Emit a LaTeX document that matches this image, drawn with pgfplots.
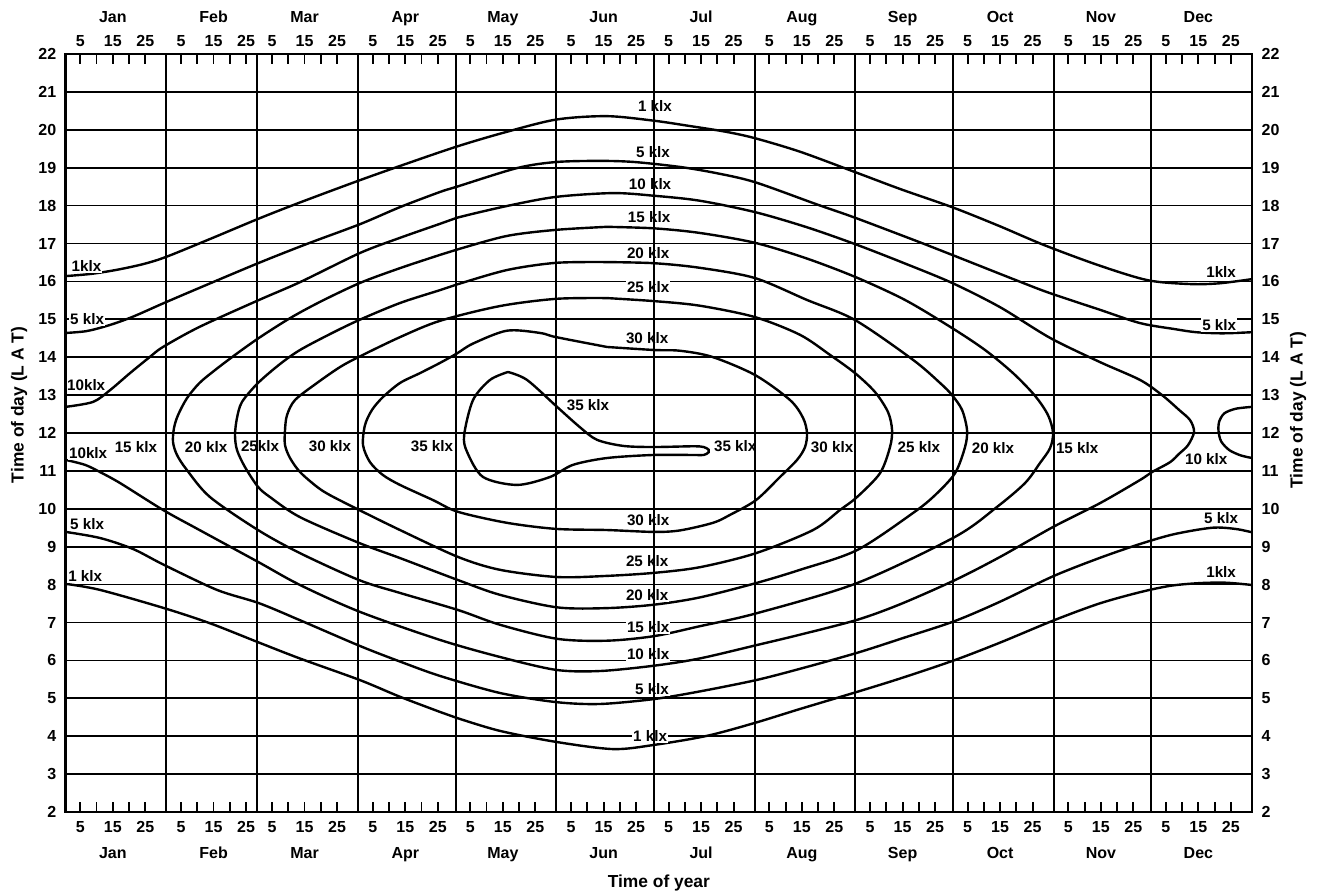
\documentclass[border=0pt]{standalone}
\usepackage{fontspec}
\setmainfont{Liberation Sans}
\usepackage{pgfplots}
\pgfplotsset{compat=1.18}

\newcommand{\tickfont}{\fontsize{8}{9.6}\selectfont\bfseries}
\newcommand{\labfont}{\fontsize{7.6}{9}\selectfont\bfseries}
\newcommand{\titlefont}{\fontsize{8.7}{10.4}\selectfont\bfseries}

\pgfplotsset{
  lux/.style={black, line width=1.2pt, smooth, tension=0.5, mark=none},
  chartframe/.style={
    scale only axis, width=593.15pt, height=379pt,
    xmin=0, xmax=365, ymin=2, ymax=22,
    axis line style={line width=1.4pt, black},
    tick label style={font=\tickfont},
    /pgf/number format/assume math mode=true,
  },
  daylabels/.style={
    xtick={4.5,14.5,24.5,35.5,45.5,55.5,63.5,73.5,83.5,94.5,104.5,114.5,124.5,134.5,144.5,155.5,165.5,175.5,185.5,195.5,205.5,216.5,226.5,236.5,247.5,257.5,267.5,277.5,287.5,297.5,308.5,318.5,328.5,338.5,348.5,358.5},
    xticklabels={5,15,25,5,15,25,5,15,25,5,15,25,5,15,25,5,15,25,5,15,25,5,15,25,5,15,25,5,15,25,5,15,25,5,15,25},
  },
}
\tikzset{
  lbl/.style={fill=white, inner sep=0.6pt, font=\labfont},
  monthtop/.style={anchor=base, yshift=16pt, font=\tickfont},
  monthbot/.style={anchor=base, yshift=-23pt, font=\tickfont},
}

\begin{document}
\begin{tikzpicture}
\path[use as bounding box] (-32.85pt,-39.5pt) rectangle (626.65pt,406pt);

% ---------------- main axis: hour grid, day ticks, illuminance contours
\begin{axis}[chartframe, daylabels,
  minor xtick={9.5,19.5,40.5,50.5,68.5,78.5,99.5,109.5,129.5,139.5,160.5,170.5,190.5,200.5,221.5,231.5,252.5,262.5,282.5,292.5,313.5,323.5,343.5,353.5},
  xtick pos=both, tick align=inside,
  major tick length=5pt, minor tick length=5pt,
  tick style={line width=0.9pt, black},
  xticklabel style={yshift=-1.3pt},
  ytick={2,...,22}, ytick pos=left,
  ytick style={draw=none},
  yticklabel style={xshift=-1.2pt},
  ymajorgrids,
  major grid style={line width=0.85pt, black},
  xlabel={Time of year},
  xlabel style={font=\titlefont, at={(rel axis cs:0.5,0)}, anchor=base, yshift=-37.5pt},
  ylabel={Time of day (L A T)},
  % the label is rotated, so its own y direction points left
  ylabel style={font=\titlefont, at={(rel axis cs:0,0.537)}, anchor=center, yshift=23.3pt},
]

% 1 klx, evening
\addplot[lux] coordinates {(0,16.14) (8,16.20) (16,16.31) (24,16.46) (31,16.65) (45,17.14) (59.5,17.66) (72,18.08) (90.5,18.67) (105,19.11) (120.4,19.56) (135,19.93) (150.9,20.27) (166.5,20.36) (181,20.24) (192,20.10) (203,19.95) (212,19.78) (226,19.42) (243,18.88) (257,18.43) (273,17.95) (287,17.47) (301,16.96) (318,16.42) (333,16.03) (346,15.93) (355,15.95) (365,16.06)};
% 1 klx, morning
\addplot[lux] coordinates {(0,8.02) (10.55,7.86) (30.25,7.38) (44.71,6.97) (59.48,6.47) (72.09,6.05) (90.55,5.48) (102.86,5.04) (115.17,4.64) (120.40,4.48) (133.63,4.14) (150.86,3.85) (168.40,3.66) (181.02,3.77) (197.32,4.01) (212,4.35) (226,4.72) (243.5,5.17) (257,5.53) (273.6,6.01) (287.5,6.47) (303.8,7.05) (318,7.50) (330.55,7.80) (340,7.97) (349.02,8.04) (357,8.05) (365,7.99)};
% 5 klx, evening
\addplot[lux] coordinates {(0,14.64) (6.5,14.69) (13.6,14.85) (20.71,15.07) (30.25,15.43) (41.17,15.83) (59.48,16.49) (74.25,16.99) (90.55,17.51) (102.86,17.96) (115.17,18.36) (120.40,18.50) (138.86,18.99) (150.86,19.15) (164.40,19.18) (175,19.15) (189,19.02) (200,18.86) (212,18.62) (231.17,18.03) (242.86,17.68) (264.09,16.99) (272.71,16.70) (293.94,15.98) (302.86,15.69) (318.25,15.25) (330.55,14.90) (341.32,14.74) (347.78,14.66) (356,14.63) (365,14.66)};
% 5 klx, morning
\addplot[lux] coordinates {(0,9.39) (10.55,9.23) (20.71,8.94) (30.25,8.52) (46.55,7.86) (59.48,7.51) (72.09,7.06) (90.55,6.38) (102.86,5.97) (115.17,5.59) (133.63,5.14) (150.86,4.90) (164.40,4.85) (181,4.98) (195,5.18) (212.4,5.48) (226,5.78) (243.5,6.20) (258,6.60) (273.6,7.04) (287.5,7.55) (303.8,8.22) (318,8.70) (330.5,9.07) (341,9.33) (352.7,9.50) (359.8,9.47) (365,9.38)};
% 10 klx
\addplot[lux] coordinates {(0,12.69) (8.4,12.82) (13.63,13.13) (19.78,13.58) (25.94,14.01) (29.94,14.27) (41.17,14.80) (59.48,15.51) (72.09,15.98) (90.55,16.75) (102.86,17.15) (115.17,17.52) (120.40,17.68) (135.78,17.99) (150.86,18.23) (168.4,18.33) (181,18.26) (195,18.13) (212,17.83) (228,17.43) (243,16.98) (258,16.48) (272.71,15.96) (287.48,15.32) (302.86,14.51) (318.25,13.87) (330.55,13.40) (337.32,13.00) (342.55,12.61) (345.94,12.34) (347.17,12.03) (345.32,11.68) (342.55,11.45) (339.78,11.23) (334.25,10.97) (330.55,10.76) (318.25,10.15) (303.78,9.52) (287.48,8.73) (273.63,8.12) (256.7,7.48) (243.5,7.07) (226,6.68) (212.4,6.40) (195,6.05) (181,5.86) (164.40,5.72) (150.86,5.75) (133.63,6.09) (115.17,6.54) (90.55,7.28) (72.09,7.99) (59.17,8.60) (41.17,9.44) (29.94,9.97) (16.71,10.68) (10.55,10.97) (5.94,11.16) (0,11.29)};
\addplot[lux] coordinates {(365,12.69) (360,12.64) (356.5,12.52) (354.9,12.30) (354.7,12.05) (355.5,11.78) (358,11.55) (361.5,11.41) (365,11.34)};
% 15 klx
\addplot[lux] coordinates {(166.55,17.44) (181,17.40) (195,17.28) (212,17.02) (227.48,16.62) (242.86,16.12) (258.25,15.51) (272.71,14.77) (282.86,14.19) (291.48,13.58) (298.25,12.98) (302.25,12.47) (303.78,12.00) (302.86,11.60) (299.78,11.21) (295.17,10.68) (286.55,10.05) (273.63,9.26) (243.48,8.04) (212.4,7.24) (195,6.90) (181,6.64) (166.55,6.52) (151.17,6.57) (133.63,6.94) (120.71,7.33) (102.86,7.78) (90.25,8.12) (72.09,8.83) (59.17,9.44) (44.40,10.31) (37.32,11.02) (34.25,11.42) (33.02,11.76) (33.32,12.13) (34.55,12.47) (37.32,12.92) (41.17,13.32) (45.94,13.66) (52.09,14.06) (59.48,14.51) (69.02,15.03) (78.25,15.46) (90.55,15.96) (102.86,16.35) (115.17,16.70) (120.40,16.84) (135.78,17.20) (150.86,17.36) (166.55,17.44)};
% 20 klx
\addplot[lux] coordinates {(166.55,16.51) (181,16.48) (195,16.36) (212,16.09) (228.09,15.51) (242.86,14.98) (260.71,13.93) (269.02,13.32) (272.71,13.00) (275.78,12.61) (277.32,12.08) (276.71,11.63) (273.63,10.94) (267.48,10.36) (260.71,9.89) (243.48,8.91) (225.94,8.39) (212.40,8.04) (195,7.66) (181,7.47) (166.55,7.38) (151.17,7.40) (133.63,7.73) (120.71,8.12) (102.86,8.70) (90.25,9.10) (72.09,9.78) (62.86,10.31) (59.17,10.58) (55.17,11.10) (52.71,11.55) (52.09,11.95) (52.71,12.40) (54.25,12.82) (59.17,13.32) (65.94,13.82) (72.09,14.19) (81.32,14.61) (90.25,14.98) (102.86,15.43) (115.17,15.77) (120.40,15.92) (135.78,16.30) (150.86,16.49) (166.55,16.51)};
% 25 klx
\addplot[lux] coordinates {(166.55,15.56) (181,15.48) (195,15.36) (212,15.06) (225.94,14.59) (235.17,14.06) (242.86,13.58) (249.02,13.08) (253.02,12.55) (254.25,12.08) (253.63,11.63) (250.55,10.94) (243.48,10.31) (238.25,9.97) (229.94,9.44) (212.40,8.83) (195.17,8.46) (181.02,8.31) (166.55,8.23) (151.17,8.20) (133.63,8.39) (120.71,8.73) (102.86,9.44) (90.25,9.97) (81.32,10.36) (77.32,10.58) (72.09,10.97) (69.02,11.34) (67.48,11.68) (67.48,12.08) (68.09,12.47) (70.55,12.87) (77.32,13.32) (84.40,13.74) (90.25,14.01) (102.86,14.53) (115.17,14.96) (133.63,15.35) (150.86,15.54) (166.55,15.56)};
% 30 klx
\addplot[lux] coordinates {(166.55,14.27) (181.02,14.19) (189.02,14.17) (198.86,14.01) (212.09,13.53) (222.86,12.87) (226.86,12.40) (228.09,12.00) (227.48,11.63) (225.02,11.29) (219.78,10.84) (212.40,10.23) (204.40,9.84) (199.17,9.63) (189.02,9.43) (181.02,9.39) (166.55,9.44) (150.86,9.47) (135.78,9.63) (120.71,9.92) (113.02,10.23) (102.86,10.63) (97.63,10.89) (93.63,11.23) (91.48,11.68) (92.09,12.21) (94.25,12.61) (97.63,12.95) (102.86,13.32) (109,13.58) (115.17,13.85) (120.4,14.10) (125.32,14.36) (135.78,14.70) (145.94,14.64) (150.86,14.53) (166.55,14.27)};
% 35 klx
\addplot[lux] coordinates {(136.09,13.61) (141.94,13.40) (151.17,12.69) (158.25,12.15) (163.48,11.82) (171.48,11.66) (180.71,11.63) (193,11.65) (196.3,11.63) (197.8,11.56) (197.8,11.49) (196.3,11.42) (193,11.42) (180.71,11.42) (166.55,11.34) (156.09,11.16) (149.02,10.84) (138.86,10.63) (128.40,10.84) (123.5,11.5) (122.6,11.95) (125.32,12.87) (130.55,13.40) (136.09,13.61)};
% leader below the lowest label
\addplot[black, line width=1.1pt, mark=none] coordinates {(153.0,4) (172.1,4)};

% contour labels
\node[lbl] at (axis cs:181.3,20.62) {1 klx};
\node[lbl] at (axis cs:180.7,19.41) {5 klx};
\node[lbl] at (axis cs:179.8,18.58) {10 klx};
\node[lbl] at (axis cs:179.5,17.70) {15 klx};
\node[lbl] at (axis cs:179.2,16.75) {20 klx};
\node[lbl] at (axis cs:179.2,15.84) {25 klx};
\node[lbl] at (axis cs:178.9,14.51) {30 klx};
\node[lbl] at (axis cs:160.7,12.74) {35 klx};
\node[lbl] at (axis cs:206.0,11.66) {35 klx};
\node[lbl] at (axis cs:235.8,11.63) {30 klx};
\node[lbl] at (axis cs:262.5,11.63) {25 klx};
\node[lbl] at (axis cs:285.3,11.60) {20 klx};
\node[lbl] at (axis cs:311.2,11.60) {15 klx};
\node[lbl] at (axis cs:350.9,11.32) {10 klx};
\node[lbl] at (axis cs:354.9,14.85) {5 klx};
\node[lbl] at (axis cs:355.5,16.25) {1klx};
\node[lbl] at (axis cs:355.5,9.76) {5 klx};
\node[lbl] at (axis cs:355.5,8.33) {1klx};
\node[lbl] at (axis cs:179.2,9.70) {30 klx};
\node[lbl] at (axis cs:178.9,8.62) {25 klx};
\node[lbl] at (axis cs:178.9,7.73) {20 klx};
\node[lbl] at (axis cs:179.2,6.88) {15 klx};
\node[lbl] at (axis cs:179.2,6.17) {10 klx};
\node[lbl] at (axis cs:180.4,5.25) {5 klx};
\node[lbl] at (axis cs:179.8,4.01) {1 klx};
\node[lbl] at (axis cs:6.4,16.41) {1klx};
\node[lbl] at (axis cs:6.6,15.01) {5 klx};
\node[lbl] at (axis cs:6.3,13.27) {10klx};
\node[lbl] at (axis cs:6.9,11.47) {10klx};
\node[lbl] at (axis cs:21.6,11.63) {15 klx};
\node[lbl] at (axis cs:43.2,11.63) {20 klx};
\node[lbl] at (axis cs:59.8,11.65) {25klx};
\node[lbl] at (axis cs:81.3,11.65) {30 klx};
\node[lbl] at (axis cs:112.7,11.66) {35 klx};
\node[lbl] at (axis cs:6.6,9.60) {5 klx};
\node[lbl] at (axis cs:6.0,8.23) {1 klx};
\end{axis}

% ---------------- overlay: month boundaries, top and right labels
\begin{axis}[chartframe, daylabels,
  xtick pos=right, xticklabel pos=right,
  major tick length=0pt,
  extra x ticks={31,59,90,120,151,181,212,243,273,304,334},
  extra x tick labels={},
  extra x tick style={grid=major},
  major grid style={line width=1pt, black},
  ytick={2,...,22}, ytick pos=right, yticklabel pos=right,
  yticklabel style={xshift=1.3pt},
  ylabel={Time of day (L A T)},
  ylabel style={font=\titlefont, at={(rel axis cs:1,0.53)}, anchor=center, yshift=-23pt},
  clip=false,
]
\node[monthtop] at (axis cs:14.5,22) {Jan};
\node[monthtop] at (axis cs:45.5,22) {Feb};
\node[monthtop] at (axis cs:73.5,22) {Mar};
\node[monthtop] at (axis cs:104.5,22) {Apr};
\node[monthtop] at (axis cs:134.5,22) {May};
\node[monthtop] at (axis cs:165.5,22) {Jun};
\node[monthtop] at (axis cs:195.5,22) {Jul};
\node[monthtop] at (axis cs:226.5,22) {Aug};
\node[monthtop] at (axis cs:257.5,22) {Sep};
\node[monthtop] at (axis cs:287.5,22) {Oct};
\node[monthtop] at (axis cs:318.5,22) {Nov};
\node[monthtop] at (axis cs:348.5,22) {Dec};
\node[monthbot] at (axis cs:14.5,2) {Jan};
\node[monthbot] at (axis cs:45.5,2) {Feb};
\node[monthbot] at (axis cs:73.5,2) {Mar};
\node[monthbot] at (axis cs:104.5,2) {Apr};
\node[monthbot] at (axis cs:134.5,2) {May};
\node[monthbot] at (axis cs:165.5,2) {Jun};
\node[monthbot] at (axis cs:195.5,2) {Jul};
\node[monthbot] at (axis cs:226.5,2) {Aug};
\node[monthbot] at (axis cs:257.5,2) {Sep};
\node[monthbot] at (axis cs:287.5,2) {Oct};
\node[monthbot] at (axis cs:318.5,2) {Nov};
\node[monthbot] at (axis cs:348.5,2) {Dec};
\end{axis}
\end{tikzpicture}
\end{document}
